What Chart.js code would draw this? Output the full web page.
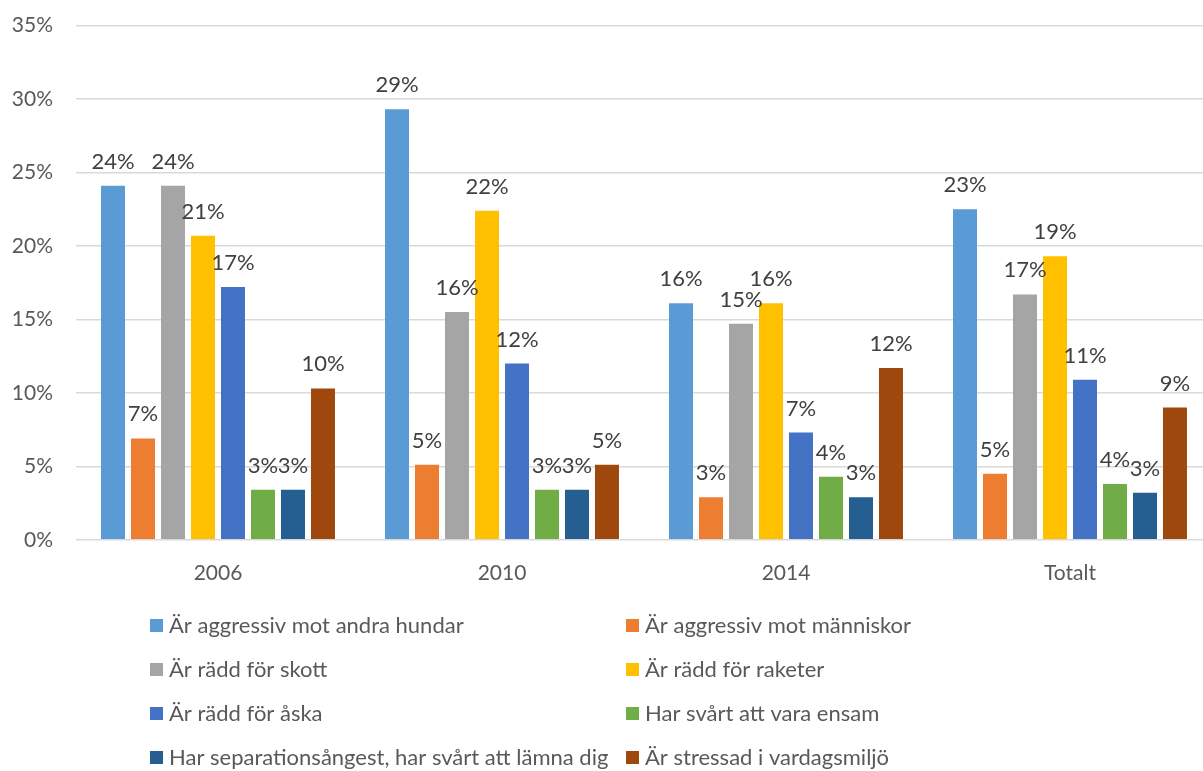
<!DOCTYPE html>
<html>
<head>
<meta charset="utf-8">
<script src="https://cdn.jsdelivr.net/npm/chart.js@4"></script>
<style>
  html, body { margin: 0; padding: 0; background: #fff; overflow: hidden; }
  #wrap { position: relative; width: 1215px; height: 781px; margin-top: -10px; }
</style>
</head>
<body>
<div id="wrap"><canvas id="chart"></canvas></div>
<script>
// categories on the x axis
const categories = ['2006', '2010', '2014', 'Totalt'];

// series names (legend) and colours
const seriesNames = [
    'Är aggressiv mot andra hundar',
    'Är aggressiv mot människor',
    'Är rädd för skott',
    'Är rädd för raketer',
    'Är rädd för åska',
    'Har svårt att vara ensam',
    'Har separationsångest, har svårt att lämna dig',
    'Är stressad i vardagsmiljö'
];
const seriesColors = ['#5B9BD5', '#ED7D31', '#A5A5A5', '#FFC000', '#4472C4', '#70AD47', '#255E91', '#9E480E'];

// values in percent, one array per series (2006, 2010, 2014, Totalt)
const aggressivHundar   = [24.1, 29.3, 16.1, 22.5];
const aggressivManniskor = [6.9, 5.1, 2.9, 4.5];
const raddSkott         = [24.1, 15.5, 14.7, 16.7];
const raddRaketer       = [20.7, 22.4, 16.1, 19.3];
const raddAska          = [17.2, 12.0, 7.3, 10.9];
const svartEnsam        = [3.4, 3.4, 4.3, 3.8];
const separation        = [3.4, 3.4, 2.9, 3.2];
const stressad          = [10.3, 5.1, 11.7, 9.0];
const seriesValues = [aggressivHundar, aggressivManniskor, raddSkott, raddRaketer, raddAska, svartEnsam, separation, stressad];

// y axis ticks
const yTicks = [0, 5, 10, 15, 20, 25, 30, 35];

const FONT = 'Lato, "Open Sans", sans-serif';

// value labels above each bar
const barLabels = {
    id: 'barLabels',
    afterDatasetsDraw(chart) {
        const ctx = chart.ctx;
        ctx.save();
        ctx.font = '22px ' + FONT;
        ctx.fillStyle = '#404040';
        ctx.textAlign = 'center';
        ctx.textBaseline = 'alphabetic';
        chart.data.datasets.forEach((ds, i) => {
            chart.getDatasetMeta(i).data.forEach((bar, j) => {
                ctx.fillText(Math.round(ds.data[j]) + '%', bar.x, bar.y - 17);
            });
        });
        ctx.restore();
    }
};

// two-column legend under the plot (canvas is shifted up 10px)
const gridLegend = {
    id: 'gridLegend',
    afterDraw(chart) {
        const ctx = chart.ctx;
        ctx.save();
        ctx.font = '22px ' + FONT;
        ctx.textBaseline = 'middle';
        chart.data.datasets.forEach((ds, i) => {
            const col = i % 2;
            const row = Math.floor(i / 2);
            const x = col === 0 ? 150 : 626;
            const y = 635 + row * 44;
            ctx.fillStyle = ds.backgroundColor;
            ctx.fillRect(x, y - 6, 13, 13);
            ctx.fillStyle = '#595959';
            ctx.fillText(ds.label, x + 19, y + 1);
        });
        ctx.restore();
    }
};

const ctx = document.getElementById('chart').getContext('2d');
const chart = new Chart(ctx, {
    type: 'bar',
    data: {
        labels: categories,
        datasets: seriesNames.map((name, i) => ({
            label: name,
            data: seriesValues[i],
            backgroundColor: seriesColors[i],
            categoryPercentage: 0.845,
            barPercentage: 0.8
        }))
    },
    options: {
        responsive: true,
        maintainAspectRatio: false,
        animation: false,
        layout: { padding: { top: 25, right: 3, bottom: 164, left: 0 } },
        plugins: {
            legend: { display: false },
            tooltip: { enabled: false }
        },
        scales: {
            x: {
                grid: { display: false, drawTicks: false },
                border: { display: false },
                ticks: { color: '#595959', font: { family: FONT, size: 21 }, padding: 21 }
            },
            y: {
                min: 0,
                max: 35,
                afterBuildTicks(scale) { scale.ticks = yTicks.map(v => ({ value: v })); },
                grid: { color: '#d9d9d9', lineWidth: 1.5, drawTicks: false },
                border: { display: false },
                ticks: {
                    color: '#595959',
                    font: { family: FONT, size: 21 },
                    padding: 23,
                    callback: v => v + '%'
                },
                afterFit(scale) { scale.width = 76; }
            }
        }
    },
    plugins: [barLabels, gridLegend]
});
</script>
</body>
</html>
